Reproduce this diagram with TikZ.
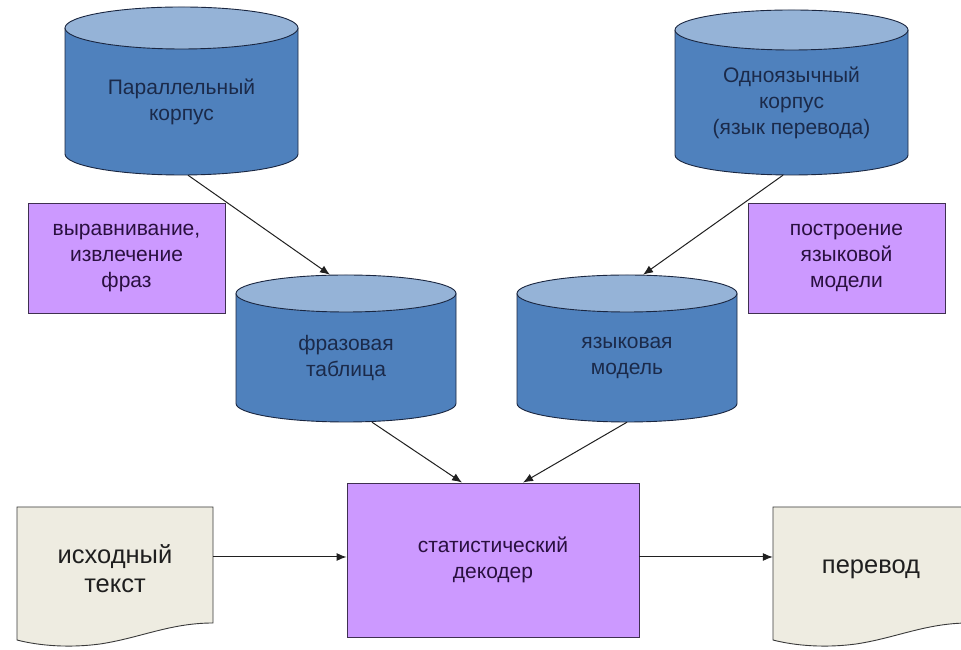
\documentclass[tikz,border=0pt]{standalone}
\usepackage{fontspec}
\setmainfont{Liberation Sans}
\usetikzlibrary{arrows.meta,calc}
\definecolor{cylbody}{HTML}{4F81BD}
\definecolor{cyltop}{HTML}{95B3D7}
\definecolor{cylline}{HTML}{1A2640}
\definecolor{cyltextc}{HTML}{1B2A4A}
\definecolor{procfill}{HTML}{CC99FF}
\definecolor{procline}{HTML}{3F3050}
\definecolor{proctext}{HTML}{2A1040}
\definecolor{docfill}{HTML}{EEECE1}
\definecolor{docline}{HTML}{3A3A3A}
\definecolor{arrowc}{HTML}{202020}
\tikzset{
  cylbox/.style={draw=none, inner sep=0pt},
  cyltxt/.style={text=cyltextc, align=center, font=\fontsize{21}{26}\selectfont},
  procbox/.style={draw=procline, fill=procfill, line width=0.9pt, text=proctext, align=center, font=\fontsize{21}{26}\selectfont, inner sep=0pt},
  doctxt/.style={draw=none, text=black!88, align=center, font=\fontsize{25.5}{29}\selectfont, inner sep=0pt, minimum width=196pt, minimum height=124pt},
  docshape/.style={fill=docfill, draw=docline, line width=0.9pt},
  arr/.style={draw=arrowc, line width=1pt, -{Latex[length=10pt,width=8pt]}}
}
% name, cx, topY, botY, rx, ry, text
\newcommand\dbcyl[7]{%
  \fill[cylbody] (#2-#5,#3) -- (#2-#5,#4) arc[start angle=180,end angle=360,x radius=#5,y radius=#6] -- (#2+#5,#3) -- cycle;
  \draw[cylline, line width=0.9pt] (#2-#5,#3) -- (#2-#5,#4) arc[start angle=180,end angle=360,x radius=#5,y radius=#6] -- (#2+#5,#3);
  \filldraw[fill=cyltop, draw=cylline, line width=0.9pt] (#2,#3) ellipse [x radius=#5, y radius=#6];
  \node[cylbox, minimum width={2*#5}, minimum height={#3-#4+2*#6}] (#1) at (#2,{(#3+#4)/2}) {};
  \node[cyltxt] (#1t) at (#2,{(#3-#6+#4)/2}) {#7};
}
% x offset for document shape
\newcommand\docpath[1]{%
  \filldraw[docshape] (#1+17,143) -- (#1+213,143) -- (#1+213,27)
    .. controls (#1+170,27) and (#1+140,12) .. (#1+100,6)
    .. controls (#1+70,2) and (#1+40,4) .. (#1+17,10) -- cycle;
}
\begin{document}
\begin{tikzpicture}[x=1pt,y=1pt]
\useasboundingbox (0,0) rectangle (961,650);
\fill[white] (0,0) rectangle (961,650);

\dbcyl{par}{181.5}{622}{496}{116.5}{21}{Параллельный\\корпус}
\dbcyl{mono}{791.5}{620}{495}{116.5}{20}{Одноязычный\\корпус\\(язык перевода)}
\dbcyl{phr}{346}{356.5}{246.5}{110}{18.5}{фразовая\\таблица}
\dbcyl{lm}{627}{356.5}{246.5}{110}{18.5}{языковая\\модель}

\node[procbox, minimum width=197pt, minimum height=110pt] (align) at (126.5,392) {выравнивание,\\извлечение\\фраз};
\node[procbox, minimum width=197pt, minimum height=110pt] (build) at (846.5,392) {построение\\языковой\\модели};
\node[procbox, minimum width=292pt, minimum height=154pt] (dec) at (493,90) {статистический\\декодер};

\docpath{0}
\docpath{756}
\node[doctxt] (src) at (115,81) {исходный\\текст};
\node[doctxt] (out) at (871,81) {перевод};

\draw[arr] ($(par.south)+(6.5,0)$) -- ($(phr.north)+(-16,0)$);
\draw[arr] ($(mono.south)+(-8.5,0)$) -- ($(lm.north)+(16,0)$);
\draw[arr] ($(phr.south)+(26,0)$) -- ($(dec.north)+(-31,0)$);
\draw[arr] (lm.south) -- ($(dec.north)+(30,0)$);
\draw[arr] ([yshift=3pt]dec.west -| src.east) -- ([yshift=3pt]dec.west);
\draw[arr] ([yshift=3pt]dec.east) -- ([yshift=3pt]dec.east -| out.west);
\end{tikzpicture}
\end{document}
